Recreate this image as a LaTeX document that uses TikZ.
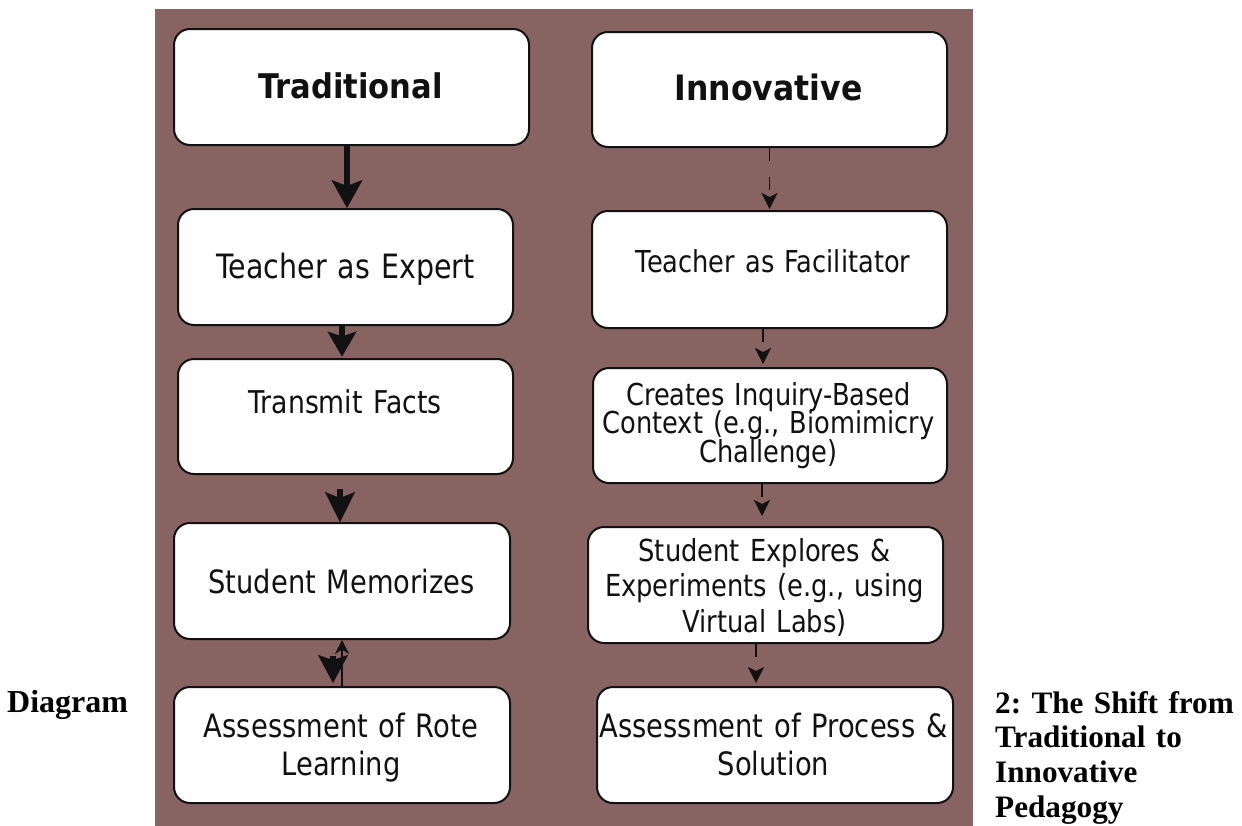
\documentclass[tikz,border=0pt]{standalone}
\usepackage{fontspec}
\setmainfont{Liberation Serif}
\newfontfamily\tah{DejaVu Sans}[FakeStretch=0.85]
\newfontfamily\tahb{DejaVu Sans}[FakeStretch=0.9]
\usetikzlibrary{arrows.meta,calc}
\definecolor{bgbrown}{RGB}{135,99,98}
\definecolor{ink}{RGB}{17,17,17}
\newcommand{\myfs}[2]{\fontsize{#1}{#2}\selectfont\lineskiplimit=-100pt\relax}
\frenchspacing
\tikzset{
  box/.style={draw=ink, line width=2pt, fill=white, rounded corners=16pt, inner sep=0pt},
  lbl/.style={anchor=base, inner sep=0pt, align=center, text=ink, text width=360pt},
  bigarr/.style={draw=ink, line width=6pt, -{Stealth[length=28pt, width=31pt, inset=6pt, line width=0.5pt]}},
  dasharr/.style={draw=ink, line width=1.5pt, dash pattern=on 13pt off 16pt, -{Stealth[length=16pt, width=16pt, inset=4pt, line width=0.5pt]}},
  captxt/.style={inner sep=0pt, anchor=base west, text=black, font=\bfseries\frenchspacing\myfs{32}{34.7}}
}
\begin{document}
\begin{tikzpicture}[x=1pt,y=-1pt]
\useasboundingbox (0,0) rectangle (1242,825);
\fill[bgbrown] (155,9) rectangle (973,826);

% boxes
\node[box, minimum width=355pt, minimum height=116pt] (trad) at (351.5,87) {};
\node[box, minimum width=335pt, minimum height=116pt] (expert) at (345.5,267) {};
\node[box, minimum width=335pt, minimum height=115pt] (transmit) at (345.5,416.5) {};
\node[box, minimum width=336pt, minimum height=116pt] (memor) at (342,581) {};
\node[box, minimum width=336pt, minimum height=116pt] (rote) at (342,745) {};
\node[box, minimum width=355pt, minimum height=115pt] (innov) at (769.5,89.5) {};
\node[box, minimum width=355pt, minimum height=117pt] (facil) at (769.5,269.5) {};
\node[box, minimum width=354pt, minimum height=115pt] (creates) at (770,425.5) {};
\node[box, minimum width=355pt, minimum height=116pt] (explores) at (765.5,585) {};
\node[box, minimum width=356pt, minimum height=116pt] (process) at (775,745) {};

% texts
\node[lbl, font=\tahb\bfseries\myfs{34}{40}] (tradT) at (350.5,98) {Traditional};
\node[lbl, font=\tahb\bfseries\myfs{35}{40}] (innovT) at (768.5,100) {Innovative};
\node[lbl, font=\tah\myfs{33.5}{38}] (expertT) at (345.5,278) {Teacher as Expert};
\node[lbl, font=\tah\myfs{31.4}{38}] (transmitT) at (345,413) {Transmit Facts};
\node[lbl, font=\tah\myfs{32.1}{38}] (memorT) at (341.5,593) {Student Memorizes};
\node[lbl, font=\tah\myfs{32.2}{38}] (roteT) at (341,737) {Assessment of Rote\\Learning};
\node[lbl, font=\tah\myfs{30.2}{38}] (facilT) at (773,272) {Teacher as Facilitator};
\node[lbl, font=\tah\myfs{30.2}{28.5}] (createsT) at (768.5,405) {Creates Inquiry-Based\\Context (e.g., Biomimicry\\Challenge)};
\node[lbl, font=\tah\myfs{30.3}{35.5}] (exploresT) at (764.5,561) {Student Explores \&\\Experiments (e.g., using\\Virtual Labs)};
\node[lbl, font=\tah\myfs{32.2}{38}] (processT) at (773.5,737) {Assessment of Process \&\\Solution};

% left connectors
\draw[bigarr] ($(trad.south)+(-4.5,0)$) -- ($(expert.north)+(1.5,0)$);
\draw[bigarr, -{Stealth[length=25pt, width=29pt, inset=5pt, line width=0.5pt]}] ($(expert.south)+(-3.5,0)$) -- ($(transmit.north)+(-3.5,-1.5)$);
\draw[bigarr, -{Stealth[length=30pt, width=30pt, inset=6pt, line width=0.5pt]}] ($(transmit.south)+(-5.5,14)$) -- ($(memor.north)+(-2,0)$);
\draw[draw=ink, line width=1.5pt, -{Stealth[length=14pt, width=14pt, line width=0.5pt]}] (rote.north) -- (memor.south);
\draw[bigarr, -{Stealth[length=28pt, width=30pt, inset=5pt, line width=0.5pt]}] ($(memor.south)+(-9,16)$) -- ($(rote.north)+(-9,-3)$);

% right connectors
\draw[dasharr] (innov.south) -- ($(facil.north)+(0,-1)$);
\draw[dasharr] ($(facil.south)+(-6.5,0)$) -- ($(creates.north)+(-7,-3)$);
\draw[dasharr] ($(creates.south)+(-8,0)$) -- ($(explores.north)+(-3.5,-10)$);
\draw[dasharr] ($(explores.south)+(-9.5,0)$) -- ($(process.north)+(-19,-3)$);

% caption
\node[captxt] (capL) at (7,712) {Diagram};
\node[captxt, font=\bfseries\myfs{31.2}{34.7}, text width=300pt, align=left] (capR) at (995,713) {2: The Shift from\\Traditional to\\Innovative\\Pedagogy};
\end{tikzpicture}
\end{document}
